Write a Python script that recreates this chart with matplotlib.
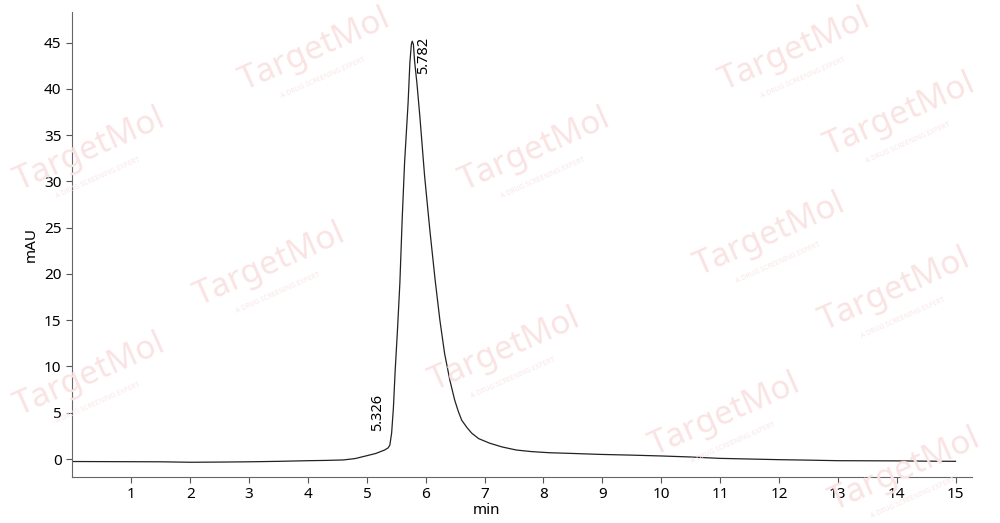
import matplotlib
matplotlib.use("Agg")
import matplotlib.pyplot as plt

# chromatogram (min, mAU)
time_min = [0.0, 0.5, 1.0, 1.5, 2.0, 2.5, 3.0, 3.5, 4.0, 4.3, 4.6, 4.8, 5.0, 5.15,
            5.3, 5.36, 5.39, 5.42, 5.45, 5.48, 5.52, 5.56, 5.6, 5.64, 5.7, 5.73,
            5.755, 5.77, 5.79, 5.81, 5.85, 5.9, 5.98, 6.07, 6.16, 6.24, 6.32,
            6.41, 6.49, 6.55, 6.61, 6.7, 6.78, 6.9, 7.09, 7.3, 7.54, 7.8, 8.1, 8.5,
            8.96, 9.5, 10.0, 10.5, 11.0, 11.5, 12.0, 12.5, 13.0, 13.5, 14.0, 14.5, 15.0]
signal = [-0.27, -0.28, -0.29, -0.3, -0.35, -0.33, -0.3, -0.25, -0.18, -0.15, -0.1, 0.05, 0.36, 0.6,
          0.97, 1.2, 1.5, 2.8, 5.5, 9.5, 14.0, 19.0, 26.0, 32.0, 38.5, 42.8,
          44.8, 45.15, 44.8, 43.0, 40.6, 37.0, 30.6, 24.7, 19.3, 15.0, 11.4,
          8.5, 6.4, 5.2, 4.2, 3.4, 2.8, 2.2, 1.7, 1.3, 0.97, 0.8, 0.68, 0.6,
          0.5, 0.42, 0.33, 0.22, 0.07, 0.0, -0.07, -0.12, -0.18, -0.19, -0.2, -0.23, -0.25]

peak_times = [5.326, 5.782]
peak_heights = [1.0, 45.2]
peak_labels = ["5.326", "5.782"]

xticks = list(range(1, 16))
yticks = list(range(0, 50, 5))

plt.rcParams['font.family'] = ['Noto Sans', 'DejaVu Sans']

fig = plt.figure(figsize=(10, 5.23), dpi=100)
ax = fig.add_axes([0.072, 0.088, 0.9, 0.889])

# watermark logos (kept inside the canvas)
wm = [(315, 50), (795, 50), (900, 115), (90, 150), (535, 150), (770, 235),
      (270, 265), (895, 290), (90, 375), (505, 350), (725, 415), (905, 470)]
for px, py in wm:
    fig.text(px / 1000, 1 - py / 523, "TargetMol", fontsize=24, color='#fae3e3',
             rotation=24, ha='center', va='center', zorder=0, fontweight='bold')
    fig.text(px / 1000 + 0.008, 1 - (py + 28) / 523, "A DRUG SCREENING EXPERT", fontsize=5,
             color='#fae6e6', rotation=24, ha='center', va='center', zorder=0)
ax.patch.set_alpha(0)

ax.plot(time_min, signal, color='#222222', lw=0.9)

ax.text(peak_times[1] + 0.05, peak_heights[1] + 0.4, peak_labels[1], rotation=90,
        ha='left', va='top', fontsize=10.5)
ax.text(peak_times[0] - 0.02, peak_heights[0] + 2.0, peak_labels[0], rotation=90,
        ha='right', va='bottom', fontsize=10.5)

ax.set_xlim(-0.01, 15.28)
ax.set_ylim(-1.94, 48.3)
ax.set_xticks(xticks)
ax.set_yticks(yticks)
ax.tick_params(colors='#555555', labelcolor='black', labelsize=11, length=4)
for s in ['top', 'right']:
    ax.spines[s].set_visible(False)
for s in ['left', 'bottom']:
    ax.spines[s].set_color('#666666')
ax.set_xlabel('min', fontsize=11)
ax.xaxis.set_label_coords(0.46, -0.055)
ax.set_ylabel('mAU', fontsize=11)

fig.savefig('out.png', dpi=100)
